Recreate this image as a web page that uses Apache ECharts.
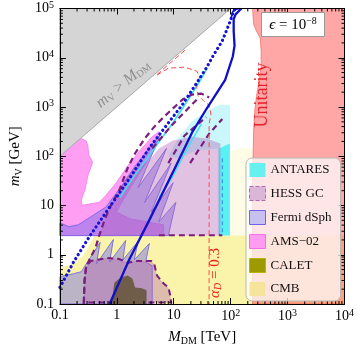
<!DOCTYPE html>
<html><head><meta charset="utf-8">
<script src="https://cdn.jsdelivr.net/npm/echarts@6/dist/echarts.min.js"></script>
<style>html,body{margin:0;padding:0;background:#fff}#c{width:357px;height:351px}</style>
</head><body><div id="c"></div><script>
// ---------- axis ticks ----------
const xTickValues=[0.1,1,10,100,1000,10000];
const xTickLabels=['0.1','1','10','10{sup|2}','10{sup|3}','10{sup|4}'];
const yTickValues=[0.1,1,10,100,1000,10000,100000];
const yTickLabels=['0.1','1','10','10{sup|2}','10{sup|3}','10{sup|4}','10{sup|5}'];
const minorMultipliers=[2,3,4,5,6,7,8,9];
const xDecades=[0.1,1,10,100,1000];
const yDecades=[0.1,1,10,100,1000,10000];

// ---------- regions: [M_DM (TeV), m_V (GeV)] ----------
const greyRegion=[[0.1,100],[100,100000],[0.1,100000]];
const unitarity=[[243,1e5],[253,48100],[284,34900],[330,25300],[343,14000],[343,6430],[318,3550],[284,1630],[263,783],[253,314],[243,36.5],[243,0.1],[1e4,0.1],[1e4,1e5]];
const cmb=[[0.1,0.1],[0.1,0.543],[0.162,0.652],[0.256,0.94],[0.347,1.78],[0.405,2.45],[10000,2.45],[10000,0.1]];
const cmbSpeckle=[[97.0,2.45],[97.0,120],[150,150],[243,140],[243,2.45]];
const ams=[[0.1,105],[0.119,131],[0.162,165],[0.188,208],[0.237,228],[0.287,208],[0.310,165],[0.322,105],[0.347,91.2],[0.375,76.0],[0.347,57.7],[0.310,40.0],[0.276,21.1],[0.237,12.8],[0.246,10.1],[0.490,11.6],[0.641,16.0],[0.978,29.0],[1.55,63.2],[2.55,131],[4.19,249],[5.48,314],[4.70,144],[1.74,23.1],[0.978,7.37],[1.74,5.35],[6.64,4.06],[6.64,2.45],[0.1,2.45]];
const fermiUpper=[[0.1,4.45],[0.144,3.71],[0.211,4.06],[0.390,6.42],[0.641,9.26],[1.23,25.3],[2.10,63.2],[3.88,158],[5.92,286],[2.36,23.1],[7.45,144],[3.08,11.6],[9.02,72.6],[4.03,7.37],[9.73,29.0],[5.48,4.66],[10.9,11.6],[8.04,2.45],[0.1,2.45]];
const fermiLower=[[0.1,0.1],[0.1,0.360],[0.174,0.413],[0.237,0.452],[0.509,1.78],[0.438,0.652],[0.871,2.04],[0.748,0.714],[1.43,1.95],[1.28,0.783],[2.36,1.87],[2.02,0.783],[3.74,1.70],[3.21,0.714],[4.19,0.595],[4.19,0.1]];
const hessUpper=[[0.490,2.45],[0.617,5.35],[0.807,10.6],[1.10,20.1],[1.43,36.5],[2.10,57.7],[3.74,83.2],[5.48,144],[9.73,208],[20.9,249],[37.2,228],[66.1,181],[66.1,2.45]];
const hessLower=[[0.263,0.107],[0.271,0.300],[0.287,0.543],[0.347,0.748],[0.666,0.857],[1.10,0.819],[1.55,0.682],[2.10,0.748],[4.03,0.748],[4.53,0.652],[5.08,0.377],[6.64,0.261],[8.04,0.217],[8.68,0.151],[9.02,0.107]];
const antaresSolid=[[61.2,144],[97.0,181],[97.0,2.45],[61.2,2.45]];
const antaresHatch=[[8.04,100],[11.8,228],[20.9,519],[37.2,820],[66.1,1130],[97.0,1080],[97.0,181],[61.2,144],[25.4,131],[11.8,91.2]];
const calet=[[0.807,0.1],[0.906,0.274],[1.18,0.344],[1.55,0.377],[1.87,0.328],[2.10,0.217],[2.75,0.208],[3.33,0.190],[3.33,0.1]];

// ---------- curves ----------
const hessOuterLine=[[0.263,0.1],[0.271,0.300],[0.287,0.543],[0.334,0.819],[0.421,1.36],[0.490,2.45],[0.617,5.35],[0.807,10.6],[1.10,20.1],[1.55,57.7],[2.10,115],[3.08,228],[4.53,394],[6.64,624],[9.73,940],[14.3,1420],[20.9,1790],[30.7,1870],[41.8,1560]];
const hessBottomLine=[[5.48,2.5],[71.4,2.5]];
const hessInner1=[[4.19,144],[9.02,413],[25.4,1420]];
const hessInner2=[[8.04,72.6],[15.4,261],[37.2,624]];
const hessInner3=[[19.4,72.6],[41.8,286],[71.4,569]];
const antaresLine1=[[1.14,14.6],[2.03,40.0],[4.52,144],[9.37,452],[18.0,1420],[29.6,3550],[38.7,6140]];
const antaresLine2=[[5.48,14.6],[9.73,40.0],[17.3,144],[30.7,452]];
const antaresEdge=[[71.4,91.2],[71.4,2.5]];
const redLine=[[5.08,4460],[8.04,6140],[15.4,6430],[25.4,5350],[28.5,4070],[25.4,2570],[26.4,1710],[33.2,1360],[41.8,1080],[45.1,714],[41.8,452],[41.8,0.1]];
const redEdgeLine=[[5.08,4570],[17.3,15600]];
const dottedLine=[[0.1,0.217],[0.174,0.714],[0.322,2.24],[0.807,10.6],[1.74,38.2],[3.88,158],[8.04,473],[14.3,1130],[25.4,3090],[37.2,6140],[50.6,11600],[71.4,22100],[86.5,38300],[101,60400],[109,79500],[117,95500]];
const solidLine=[[0.748,0.1],[1.67,0.819],[3.74,5.11],[10.5,57.7],[20.9,300],[37.2,899],[80.1,3550],[109,10600],[117,17600],[113,34900],[113,60400],[122,76000],[154,1e5]];
const topLink=[[101,60400],[109,87000],[122,95000],[140,1e5]];

const SERIF='"Liberation Serif","DejaVu Serif",serif';
const xMinor=[],yMinor=[];
xDecades.forEach(d=>minorMultipliers.forEach(k=>xMinor.push([d*k,1])));
yDecades.forEach(d=>minorMultipliers.forEach(k=>yMinor.push([1,d*k])));

function poly(name,pts,fill,stroke,lw,dash,z){
  return {type:'custom',name:name,coordinateSystem:'cartesian2d',data:pts,z:z,silent:true,
    renderItem:function(params,api){
      if(params.dataIndex!==0) return null;
      const points=pts.map(p=>api.coord(p));
      return {type:'polygon',shape:{points:points},style:{fill:fill,stroke:stroke||null,lineWidth:lw||0,lineDash:dash||null}};
    }};
}
function line(pts,color,width,dash,z,cap){
  return {type:'custom',coordinateSystem:'cartesian2d',data:pts,z:z,silent:true,
    renderItem:function(params,api){
      if(params.dataIndex!==0) return null;
      const points=pts.map(p=>api.coord(p));
      return {type:'polyline',shape:{points:points},style:{fill:null,stroke:color,lineWidth:width,lineDash:dash||null,lineCap:cap||'butt',lineJoin:'round'}};
    }};
}
function labelFmt(vals,labels){
  return function(v){
    const e=Math.log10(v);
    const i=vals.findIndex(t=>Math.abs(Math.log10(t)-e)<0.01);
    return i>=0?labels[i]:'';
  };
}
const richTick={sup:{fontSize:10,fontFamily:SERIF,color:'#000',verticalAlign:'top',padding:[0,0,7,0]}};
function axisCommon(){
  return {type:'log',logBase:10,z:30,splitLine:{show:false},
    axisLine:{lineStyle:{color:'#000',width:1}},
    axisTick:{inside:true,length:6,lineStyle:{color:'#000',width:1}}};
}
const HESS_FILL='rgba(175,95,180,0.38)';
const FERMI_FILL='rgba(110,100,232,0.45)';
const chart=echarts.init(document.getElementById('c'),null,{renderer:'canvas'});
const option={
  animation:false,
  grid:{left:45.5,right:11,top:7,bottom:42},
  xAxis:[
    Object.assign(axisCommon(),{min:0.1,max:10000,position:'bottom',
      axisLabel:{formatter:labelFmt(xTickValues,xTickLabels),color:'#000',fontFamily:SERIF,fontSize:14,margin:4,rich:richTick,showMinLabel:true,showMaxLabel:true},
      name:'{i|M}{s|DM} [TeV]',nameLocation:'middle',nameGap:25,
      nameTextStyle:{color:'#000',fontFamily:SERIF,fontSize:15,rich:{i:{fontStyle:'italic',fontFamily:SERIF,fontSize:15},s:{fontFamily:SERIF,fontSize:10,padding:[7,0,0,0]}}}}),
    Object.assign(axisCommon(),{min:0.1,max:10000,position:'top',axisLabel:{show:false}})
  ],
  yAxis:[
    Object.assign(axisCommon(),{min:0.1,max:100000,position:'left',
      axisLabel:{formatter:labelFmt(yTickValues,yTickLabels),color:'#000',fontFamily:SERIF,fontSize:14,margin:6,rich:richTick,showMinLabel:true,showMaxLabel:true},
      name:'{i|m}{s|V} [GeV]',nameLocation:'middle',nameGap:27,nameRotate:90,
      nameTextStyle:{color:'#000',fontFamily:SERIF,fontSize:15,rich:{i:{fontStyle:'italic',fontFamily:SERIF,fontSize:15},s:{fontFamily:SERIF,fontSize:10,padding:[7,0,0,0]}}}}),
    Object.assign(axisCommon(),{min:0.1,max:100000,position:'right',axisLabel:{show:false}})
  ],
  legend:{orient:'vertical',left:246,top:158,z:40,
    backgroundColor:'rgba(255,255,255,0.72)',borderColor:'#b8b8b8',borderWidth:1,borderRadius:6,
    padding:[5,9,5,3],itemGap:9,itemWidth:16,itemHeight:14,
    textStyle:{fontFamily:SERIF,fontSize:13,color:'#111'},selectedMode:false,
    data:[
      {name:'ANTARES',icon:'rect',itemStyle:{color:'#66f0f0',borderWidth:0}},
      {name:'HESS GC',icon:'rect',itemStyle:{color:'#dcb6d8',borderColor:'#b06cb0',borderWidth:1,borderType:'dashed'}},
      {name:'Fermi dSph',icon:'rect',itemStyle:{color:'#c8c0f0',borderColor:'#6e64e6',borderWidth:1}},
      {name:'AMS−02',icon:'rect',itemStyle:{color:'#ff9cf2',borderColor:'#f070e8',borderWidth:1}},
      {name:'CALET',icon:'rect',itemStyle:{color:'#9c9a00',borderColor:'#b8b400',borderWidth:1}},
      {name:'CMB',icon:'rect',itemStyle:{color:'#f6e49c',borderWidth:0}}
    ]},
  graphic:[
    {type:'rect',z:50,shape:{x:261.5,y:12.5,width:63,height:24},style:{fill:'#fff',stroke:'#999',lineWidth:1}},
    {type:'text',z:51,x:293,y:25,style:{text:'{i|ϵ} = 10{sup|−8}',align:'center',verticalAlign:'middle',fill:'#000',font:'15px '+SERIF,
      rich:{i:{fontFamily:SERIF,fontSize:15,fontStyle:'italic'},sup:{fontFamily:SERIF,fontSize:10,verticalAlign:'top',padding:[0,0,7,0]}}}},
    {type:'text',z:51,x:262,y:95,rotation:Math.PI/2,style:{text:'Unitarity',align:'center',verticalAlign:'middle',fill:'#e8202a',font:'18px '+SERIF}},
    {type:'text',z:51,x:123,y:84,rotation:0.696,style:{text:'{i|m}{s|V} > {i|M}{s|DM}',align:'center',verticalAlign:'middle',fill:'#8e8e8e',font:'16px '+SERIF,
      rich:{i:{fontFamily:SERIF,fontSize:16,fontStyle:'italic',fill:'#8e8e8e'},s:{fontFamily:SERIF,fontSize:10,padding:[7,0,0,0],fill:'#8e8e8e'}}}},
    {type:'text',z:51,x:215,y:273,rotation:Math.PI/2,style:{text:'{i|α}{s|D} = 0.3',align:'center',verticalAlign:'middle',fill:'#ee2020',font:'15px '+SERIF,
      rich:{i:{fontFamily:SERIF,fontSize:15,fontStyle:'italic',fill:'#ee2020'},s:{fontFamily:SERIF,fontSize:10,fontStyle:'italic',padding:[7,0,0,0],fill:'#ee2020'}}}}
  ],
  series:[
    poly('CMB',cmb,'#f9f4aa',null,0,null,1),
    poly('CMB',cmbSpeckle,'rgba(250,240,140,0.22)',null,0,null,1),
    poly('AMS−02',ams,'#ff9ef2','#f27ae8',0.8,null,2),
    poly('Fermi dSph',fermiUpper,FERMI_FILL,'#6a5ee6',0.8,null,3),
    poly('Fermi dSph',fermiLower,FERMI_FILL,'#6a5ee6',0.8,null,3),
    poly('ANTARES',antaresHatch,'rgba(40,225,240,0.25)',null,0,null,4),
    poly('ANTARES',antaresSolid,'rgba(60,238,242,0.85)',null,0,null,4),
    poly('HESS GC',hessUpper,HESS_FILL,null,0,null,5),
    poly('HESS GC',hessLower,HESS_FILL,'#7a1e7e',2,[6,4],5),
    poly('CALET',calet,'#6f5d4a',null,0,null,6),
    poly('grey',greyRegion,'#d5d5d5','#a8a8a8',1,null,7),
    poly('unitarity',unitarity,'rgba(255,80,80,0.5)','rgba(240,90,90,0.8)',0.8,null,8),
    line(antaresLine1,'#3ee0f0',1.6,null,9),
    line(antaresLine2,'#3ee0f0',1.4,null,9),
    line(antaresEdge,'#3aa0dd',1.3,[4,3],9),
    line(hessOuterLine,'#7a1e7e',2.2,[6,4],10),
    line(hessBottomLine,'#7a1e7e',2,[6,4],10),
    line(hessInner1,'#7a1e7e',2.2,[6,4],10),
    line(hessInner2,'#7a1e7e',2.2,[6,4],10),
    line(hessInner3,'#7a1e7e',2.2,[6,4],10),
    line(redLine,'#ff4a4a',1,[5,3],11),
    line(redEdgeLine,'#ff4a4a',1,[5,3],11),
    line(dottedLine,'#1414d2',3.2,[0.1,4.6],12,'round'),
    line(solidLine,'#1010c8',2.3,null,12),
    line(topLink,'#1010c8',1.6,null,12),
    {type:'custom',data:xMinor,z:35,silent:true,renderItem:function(params,api){
      const x=api.coord([api.value(0),1])[0];const cs=params.coordSys;
      return {type:'group',children:[
        {type:'line',shape:{x1:x,y1:cs.y+cs.height,x2:x,y2:cs.y+cs.height-3},style:{stroke:'#000',lineWidth:1}},
        {type:'line',shape:{x1:x,y1:cs.y,x2:x,y2:cs.y+3},style:{stroke:'#000',lineWidth:1}}]};}},
    {type:'custom',data:yMinor,z:35,silent:true,renderItem:function(params,api){
      const y=api.coord([1,api.value(1)])[1];const cs=params.coordSys;
      return {type:'group',children:[
        {type:'line',shape:{x1:cs.x,y1:y,x2:cs.x+3,y2:y},style:{stroke:'#000',lineWidth:1}},
        {type:'line',shape:{x1:cs.x+cs.width,y1:y,x2:cs.x+cs.width-3,y2:y},style:{stroke:'#000',lineWidth:1}}]};}}
  ]
};
chart.setOption(option);
</script></body></html>
